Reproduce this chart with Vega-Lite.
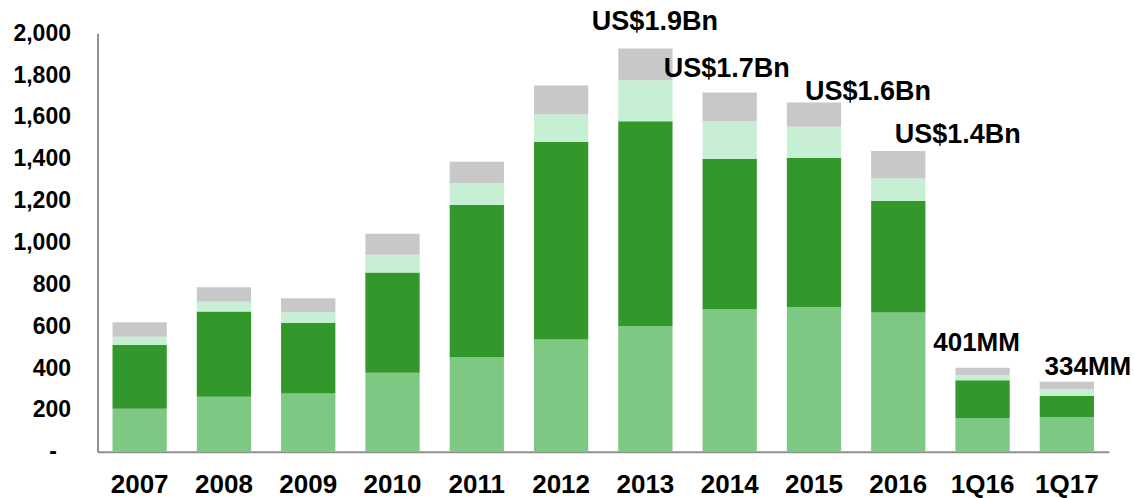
{
  "$schema": "https://vega.github.io/schema/vega-lite/v6.json",
  "width": 1011.5,
  "height": 418.4,
  "autosize": {"type": "none"},
  "padding": {"left": 97.5, "top": 33.3, "right": 25, "bottom": 46.3},
  "background": "white",
  "config": {
    "view": {"stroke": null},
    "axis": {"grid": false, "ticks": false, "domainColor": "#8f8f8f", "domainWidth": 2, "labelColor": "#000000", "title": null}
  },
  "datasets": {
    "bars": [
      {"period": "2007", "segment": "S1", "value": 205},
      {"period": "2007", "segment": "S2", "value": 306},
      {"period": "2007", "segment": "S3", "value": 39},
      {"period": "2007", "segment": "S4", "value": 69},
      {"period": "2008", "segment": "S1", "value": 263},
      {"period": "2008", "segment": "S2", "value": 407},
      {"period": "2008", "segment": "S3", "value": 47},
      {"period": "2008", "segment": "S4", "value": 69},
      {"period": "2009", "segment": "S1", "value": 278},
      {"period": "2009", "segment": "S2", "value": 338},
      {"period": "2009", "segment": "S3", "value": 51},
      {"period": "2009", "segment": "S4", "value": 67},
      {"period": "2010", "segment": "S1", "value": 377},
      {"period": "2010", "segment": "S2", "value": 479},
      {"period": "2010", "segment": "S3", "value": 86},
      {"period": "2010", "segment": "S4", "value": 100},
      {"period": "2011", "segment": "S1", "value": 453},
      {"period": "2011", "segment": "S2", "value": 726},
      {"period": "2011", "segment": "S3", "value": 104},
      {"period": "2011", "segment": "S4", "value": 103},
      {"period": "2012", "segment": "S1", "value": 536},
      {"period": "2012", "segment": "S2", "value": 944},
      {"period": "2012", "segment": "S3", "value": 132},
      {"period": "2012", "segment": "S4", "value": 138},
      {"period": "2013", "segment": "S1", "value": 600},
      {"period": "2013", "segment": "S2", "value": 980},
      {"period": "2013", "segment": "S3", "value": 196},
      {"period": "2013", "segment": "S4", "value": 151},
      {"period": "2014", "segment": "S1", "value": 681},
      {"period": "2014", "segment": "S2", "value": 718},
      {"period": "2014", "segment": "S3", "value": 181},
      {"period": "2014", "segment": "S4", "value": 137},
      {"period": "2015", "segment": "S1", "value": 692},
      {"period": "2015", "segment": "S2", "value": 713},
      {"period": "2015", "segment": "S3", "value": 148},
      {"period": "2015", "segment": "S4", "value": 116},
      {"period": "2016", "segment": "S1", "value": 665},
      {"period": "2016", "segment": "S2", "value": 533},
      {"period": "2016", "segment": "S3", "value": 108},
      {"period": "2016", "segment": "S4", "value": 131},
      {"period": "1Q16", "segment": "S1", "value": 161},
      {"period": "1Q16", "segment": "S2", "value": 180},
      {"period": "1Q16", "segment": "S3", "value": 26},
      {"period": "1Q16", "segment": "S4", "value": 34},
      {"period": "1Q17", "segment": "S1", "value": 166},
      {"period": "1Q17", "segment": "S2", "value": 100},
      {"period": "1Q17", "segment": "S3", "value": 34},
      {"period": "1Q17", "segment": "S4", "value": 34}
    ],
    "labels": [
      {"period": "2013", "total": 1927, "label": "US$1.9Bn"},
      {"period": "2014", "total": 1717, "label": "US$1.7Bn"},
      {"period": "2015", "total": 1669, "label": "US$1.6Bn"},
      {"period": "2016", "total": 1437, "label": "US$1.4Bn"},
      {"period": "1Q16", "total": 401, "label": "401MM"},
      {"period": "1Q17", "total": 334, "label": "334MM"}
    ]
  },
  "encoding": {
    "x": {
      "field": "period",
      "type": "nominal",
      "scale": {
        "domain": ["2007", "2008", "2009", "2010", "2011", "2012", "2013", "2014", "2015", "2016", "1Q16", "1Q17"],
        "paddingInner": 0.356,
        "paddingOuter": 0.178
      },
      "axis": {
        "labelAngle": 0,
        "labelFont": "Liberation Sans",
        "labelFontWeight": "bold",
        "labelFontSize": 26,
        "labelBaseline": "alphabetic",
        "labelPadding": 41,
        "title": null
      }
    }
  },
  "layer": [
    {
      "data": {"name": "bars"},
      "mark": {"type": "bar"},
      "encoding": {
        "y": {
          "field": "value",
          "type": "quantitative",
          "stack": "zero",
          "scale": {"domain": [0, 2000], "nice": false},
          "axis": {
            "values": [0, 200, 400, 600, 800, 1000, 1200, 1400, 1600, 1800, 2000],
            "labelExpr": "datum.value === 0 ? '-' : format(datum.value, ',')",
            "labelFont": "Liberation Sans",
            "labelFontWeight": "bold",
            "labelFontSize": 23,
            "labelPadding": {"condition": {"test": "datum.value === 0", "value": 41}, "value": 27},
            "title": null
          }
        },
        "color": {
          "field": "segment",
          "type": "nominal",
          "scale": {"domain": ["S1", "S2", "S3", "S4"], "range": ["#7dc983", "#33982b", "#c6efd3", "#c8c8c8"]},
          "legend": null
        },
        "order": {"field": "segment", "sort": "ascending"}
      }
    },
    {
      "data": {"name": "labels"},
      "transform": [{"filter": "datum.period === '2013'"}],
      "mark": {"type": "text", "dx": 9.5, "dy": -19, "baseline": "alphabetic", "align": "center", "font": "Liberation Sans", "fontWeight": "bold", "fontSize": 27, "color": "#000000"},
      "encoding": {"y": {"field": "total", "type": "quantitative", "axis": {"title": null}}, "text": {"field": "label"}}
    },
    {
      "data": {"name": "labels"},
      "transform": [{"filter": "datum.period === '2014'"}],
      "mark": {"type": "text", "dx": -3, "dy": -16, "baseline": "alphabetic", "align": "center", "font": "Liberation Sans", "fontWeight": "bold", "fontSize": 27, "color": "#000000"},
      "encoding": {"y": {"field": "total", "type": "quantitative", "axis": {"title": null}}, "text": {"field": "label"}}
    },
    {
      "data": {"name": "labels"},
      "transform": [{"filter": "datum.period === '2015'"}],
      "mark": {"type": "text", "dx": 54, "dy": -3, "baseline": "alphabetic", "align": "center", "font": "Liberation Sans", "fontWeight": "bold", "fontSize": 27, "color": "#000000"},
      "encoding": {"y": {"field": "total", "type": "quantitative", "axis": {"title": null}}, "text": {"field": "label"}}
    },
    {
      "data": {"name": "labels"},
      "transform": [{"filter": "datum.period === '2016'"}],
      "mark": {"type": "text", "dx": 59.5, "dy": -8, "baseline": "alphabetic", "align": "center", "font": "Liberation Sans", "fontWeight": "bold", "fontSize": 27, "color": "#000000"},
      "encoding": {"y": {"field": "total", "type": "quantitative", "axis": {"title": null}}, "text": {"field": "label"}}
    },
    {
      "data": {"name": "labels"},
      "transform": [{"filter": "datum.period === '1Q16'"}],
      "mark": {"type": "text", "dx": -6, "dy": -17, "baseline": "alphabetic", "align": "center", "font": "Liberation Sans", "fontWeight": "bold", "fontSize": 26, "color": "#000000"},
      "encoding": {"y": {"field": "total", "type": "quantitative", "axis": {"title": null}}, "text": {"field": "label"}}
    },
    {
      "data": {"name": "labels"},
      "transform": [{"filter": "datum.period === '1Q17'"}],
      "mark": {"type": "text", "dx": 21, "dy": -7, "baseline": "alphabetic", "align": "center", "font": "Liberation Sans", "fontWeight": "bold", "fontSize": 26, "color": "#000000"},
      "encoding": {"y": {"field": "total", "type": "quantitative", "axis": {"title": null}}, "text": {"field": "label"}}
    }
  ]
}
